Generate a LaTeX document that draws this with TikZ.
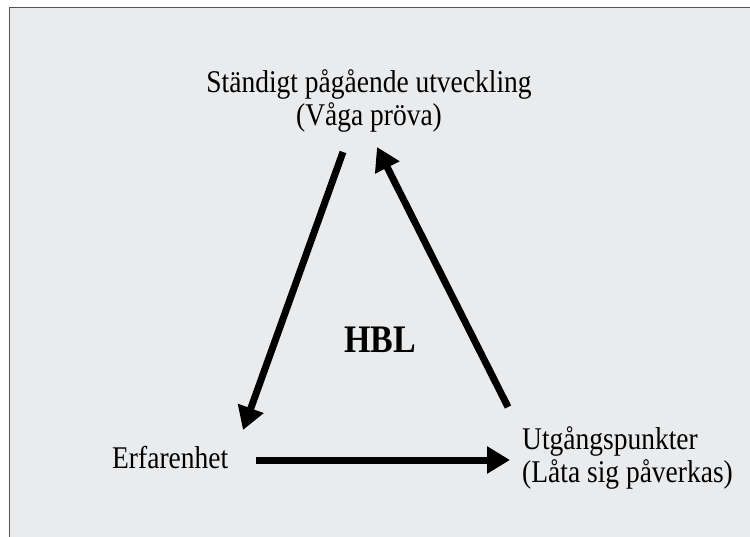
\documentclass[tikz,border=0pt]{standalone}
\usepackage{fontspec}
\setmainfont{Liberation Serif}[FakeStretch=0.87]
\usetikzlibrary{arrows.meta}
\definecolor{bg}{RGB}{234,235,237}
\definecolor{frame}{RGB}{85,85,85}
\tikzset{
  lbl/.style={inner sep=0pt, font=\fontsize{31.6}{33}\selectfont, align=center},
  flow/.style={line width=7pt, -{Triangle[length=23pt,width=26pt]}, shorten >=0pt},
}
\begin{document}
\begin{tikzpicture}[x=1pt,y=-1pt]
\useasboundingbox (0,0) rectangle (750,536);
\clip (0,0) rectangle (750,536);
\fill[white] (0,0) rectangle (750,536);
\draw[frame, fill=bg, line width=1.5pt] (9.5,7.5) rectangle (770,560);
% labels
\node[lbl, anchor=base] (top) at (369,125) {Ständigt pågående utveckling\\(Våga pröva)};
\node[lbl, anchor=base west] (left) at (112,468) {Erfarenhet};
\node[lbl, anchor=base west, align=left] (right) at (522,482) {Utgångspunkter\\(Låta sig påverkas)};
\node[inner sep=0pt, anchor=base, font=\fontsize{39}{40}\selectfont\bfseries] (hbl) at (380,352) {HBL};
% arrow ends
\coordinate (a1) at (343,152);
\coordinate (a2) at (243,430);
\coordinate (b1) at (256,460);
\coordinate (b2) at (510,460);
\coordinate (c1) at (508,407);
\coordinate (c2) at (377,147);
\draw[flow] (a1) -- (a2);
\draw[flow] (b1) -- (b2);
\draw[flow] (c1) -- (c2);
\end{tikzpicture}
\end{document}
